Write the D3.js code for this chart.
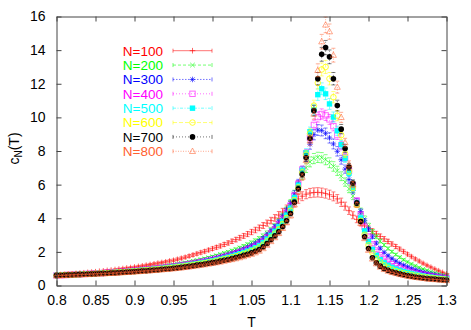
<!DOCTYPE html>
<html><head><meta charset="utf-8">
<script src="https://cdn.jsdelivr.net/npm/d3@7"></script>
<style>body{margin:0;background:#fff} svg{display:block} text{font-family:"Liberation Sans",Arial,Helvetica,sans-serif}</style>
</head><body><svg id="c" width="471" height="330"></svg>
<script>
// Temperature grid: 0.800 .. 1.300 step 0.005 (101 points)
const tStart = 0.8, tStep = 0.005, nPts = 101;
const temps = d3.range(nPts).map(i => +(tStart + tStep * i).toFixed(3));

const seriesLabels = ["N=100","N=200","N=300","N=400","N=500","N=600","N=700","N=800"];
const seriesColors = ["#ff0000","#00ff00","#0000ff","#ff00ff","#00ffff","#ffff00","#000000","#ff6030"];
const seriesMarkers = ["plus","cross","star","square","fsquare","circle","fcircle","triangle"];
const seriesDash = [null,"3,2","1.5,1.5","1,2","3,1.5,1,1.5","4,2","1,2","1,1.5"];
const errRel = [0.05,0.04,0.035,0.03,0.03,0.03,0.03,0.03];

const cN100 = [0.63,0.65,0.66,0.68,0.70,0.72,0.74,0.76,0.78,0.80,
 0.82,0.85,0.87,0.90,0.92,0.95,0.98,1.01,1.04,1.07,
 1.10,1.14,1.17,1.21,1.25,1.29,1.33,1.37,1.41,1.46,
 1.50,1.56,1.62,1.68,1.75,1.82,1.89,1.96,2.03,2.11,
 2.19,2.27,2.35,2.44,2.53,2.63,2.73,2.84,2.95,3.06,
 3.18,3.30,3.43,3.57,3.71,3.86,4.02,4.19,4.37,4.56,
 4.76,4.96,5.15,5.31,5.43,5.50,5.53,5.54,5.52,5.47,
 5.40,5.30,5.15,4.95,4.72,4.45,4.18,3.93,3.72,3.54,
 3.38,3.22,3.07,2.92,2.77,2.62,2.47,2.32,2.17,2.02,
 1.86,1.72,1.58,1.45,1.32,1.20,1.09,0.98,0.88,0.78,
 0.69];
const cN200 = [0.61,0.62,0.63,0.65,0.66,0.67,0.69,0.70,0.72,0.73,
 0.75,0.76,0.78,0.80,0.82,0.84,0.86,0.88,0.90,0.92,
 0.95,0.97,1.00,1.02,1.05,1.08,1.11,1.14,1.17,1.21,
 1.24,1.28,1.32,1.36,1.40,1.45,1.50,1.55,1.60,1.66,
 1.72,1.78,1.85,1.92,1.99,2.07,2.15,2.24,2.34,2.44,
 2.55,2.67,2.80,2.95,3.12,3.32,3.55,3.82,4.13,4.50,
 4.92,5.45,6.00,6.55,7.00,7.35,7.55,7.62,7.60,7.48,
 7.30,7.08,6.82,6.50,6.15,5.75,5.32,4.88,4.43,3.98,
 3.56,3.20,2.90,2.64,2.41,2.20,2.01,1.84,1.68,1.53,
 1.40,1.28,1.17,1.07,0.98,0.90,0.82,0.75,0.69,0.63,
 0.57];
const cN300 = [0.60,0.61,0.62,0.64,0.65,0.66,0.67,0.69,0.70,0.71,
 0.73,0.74,0.76,0.77,0.79,0.81,0.83,0.85,0.87,0.89,
 0.91,0.93,0.96,0.98,1.00,1.03,1.06,1.08,1.11,1.14,
 1.18,1.21,1.25,1.28,1.32,1.36,1.41,1.45,1.50,1.55,
 1.60,1.66,1.72,1.78,1.85,1.92,2.00,2.08,2.17,2.27,
 2.38,2.50,2.64,2.81,3.02,3.25,3.50,3.78,4.10,4.47,
 4.88,5.45,6.10,6.85,7.65,8.40,8.98,9.25,9.22,9.05,
 8.78,8.42,7.98,7.48,6.92,6.30,5.65,5.00,4.40,3.85,
 3.35,2.90,2.52,2.22,1.97,1.77,1.60,1.45,1.32,1.21,
 1.11,1.02,0.94,0.87,0.80,0.74,0.69,0.64,0.59,0.55,
 0.51];
const cN400 = [0.60,0.61,0.62,0.63,0.64,0.66,0.67,0.68,0.69,0.70,
 0.72,0.73,0.74,0.76,0.78,0.79,0.81,0.83,0.85,0.87,
 0.89,0.91,0.93,0.95,0.97,1.00,1.02,1.05,1.07,1.10,
 1.13,1.16,1.20,1.23,1.27,1.31,1.35,1.39,1.43,1.48,
 1.53,1.58,1.64,1.70,1.76,1.83,1.90,1.98,2.06,2.15,
 2.25,2.36,2.49,2.66,2.87,3.10,3.35,3.63,3.96,4.33,
 4.75,5.35,6.05,6.90,7.85,8.80,9.55,10.02,10.20,10.12,
 9.88,9.48,8.95,8.32,7.62,6.82,5.95,5.05,4.22,3.50,
 2.92,2.45,2.08,1.80,1.58,1.41,1.27,1.15,1.05,0.96,
 0.88,0.81,0.75,0.69,0.64,0.60,0.56,0.52,0.49,0.46,
 0.43];
const cN500 = [0.60,0.61,0.62,0.63,0.64,0.65,0.66,0.68,0.69,0.70,
 0.71,0.72,0.74,0.75,0.77,0.78,0.80,0.82,0.83,0.85,
 0.87,0.89,0.91,0.93,0.95,0.97,0.99,1.02,1.04,1.07,
 1.10,1.13,1.16,1.19,1.23,1.26,1.30,1.34,1.38,1.43,
 1.47,1.52,1.57,1.63,1.69,1.75,1.82,1.89,1.97,2.05,
 2.14,2.25,2.38,2.55,2.76,2.98,3.22,3.49,3.81,4.18,
 4.60,5.22,5.95,6.85,7.90,9.15,10.45,11.35,11.70,11.40,
 10.80,10.02,9.20,8.38,7.55,6.68,5.78,4.88,4.02,3.25,
 2.62,2.15,1.80,1.54,1.35,1.20,1.08,0.98,0.90,0.83,
 0.77,0.71,0.66,0.61,0.57,0.53,0.50,0.47,0.44,0.41,
 0.39];
const cN600 = [0.60,0.61,0.62,0.63,0.64,0.65,0.66,0.67,0.68,0.69,
 0.71,0.72,0.73,0.74,0.76,0.77,0.79,0.80,0.82,0.84,
 0.85,0.87,0.89,0.91,0.93,0.95,0.97,0.99,1.02,1.04,
 1.07,1.10,1.13,1.16,1.19,1.23,1.26,1.30,1.34,1.38,
 1.42,1.47,1.52,1.57,1.62,1.68,1.74,1.81,1.88,1.96,
 2.05,2.15,2.27,2.43,2.63,2.85,3.09,3.35,3.66,4.02,
 4.45,5.08,5.82,6.72,7.78,9.05,10.70,12.05,12.85,13.00,
 12.30,11.20,10.10,8.95,7.85,6.80,5.80,4.80,3.85,3.02,
 2.40,1.95,1.62,1.38,1.20,1.06,0.95,0.86,0.79,0.73,
 0.68,0.63,0.59,0.55,0.52,0.49,0.46,0.43,0.40,0.38,
 0.36];
const cN700 = [0.60,0.61,0.62,0.63,0.64,0.65,0.66,0.67,0.68,0.69,
 0.70,0.71,0.72,0.73,0.75,0.76,0.77,0.79,0.80,0.82,
 0.83,0.85,0.87,0.88,0.90,0.92,0.94,0.96,0.98,1.00,
 1.03,1.05,1.08,1.11,1.14,1.17,1.21,1.24,1.28,1.32,
 1.36,1.40,1.45,1.50,1.55,1.60,1.66,1.72,1.79,1.86,
 1.94,2.03,2.14,2.30,2.50,2.72,2.95,3.20,3.50,3.85,
 4.28,4.95,5.75,6.60,7.60,8.75,10.40,12.30,13.75,14.15,
 13.60,12.30,10.70,9.30,8.15,7.05,6.10,4.90,3.80,2.90,
 2.20,1.65,1.35,1.15,1.00,0.90,0.82,0.75,0.69,0.64,
 0.59,0.55,0.51,0.48,0.45,0.42,0.40,0.38,0.36,0.34,
 0.32];
const cN800 = [0.59,0.60,0.61,0.62,0.63,0.64,0.65,0.66,0.67,0.68,
 0.69,0.70,0.71,0.72,0.73,0.74,0.76,0.77,0.79,0.80,
 0.82,0.83,0.85,0.87,0.88,0.90,0.92,0.94,0.96,0.98,
 1.00,1.03,1.05,1.08,1.11,1.14,1.17,1.21,1.24,1.28,
 1.32,1.36,1.40,1.45,1.50,1.55,1.60,1.66,1.72,1.79,
 1.86,1.95,2.05,2.20,2.40,2.62,2.85,3.10,3.40,3.74,
 4.15,4.80,5.60,6.45,7.45,8.60,10.20,12.80,14.50,15.50,
 15.10,13.70,11.80,10.00,8.50,7.20,6.00,4.80,3.70,2.80,
 2.10,1.58,1.30,1.10,0.96,0.86,0.78,0.72,0.66,0.61,
 0.56,0.52,0.49,0.46,0.43,0.40,0.38,0.36,0.34,0.32,
 0.30];
const seriesValues = [cN100,cN200,cN300,cN400,cN500,cN600,cN700,cN800];

const xTicks = [0.8,0.85,0.9,0.95,1,1.05,1.1,1.15,1.2,1.25,1.3];
const xTickLabels = ["0.8","0.85","0.9","0.95","1","1.05","1.1","1.15","1.2","1.25","1.3"];
const yTicks = [0,2,4,6,8,10,12,14,16];
const yTickLabels = ["0","2","4","6","8","10","12","14","16"];

const svg = d3.select("#c");
const L = 56.5, R = 446.5, Tp = 16.5, B = 285.5;
const x = d3.scaleLinear().domain([0.8,1.3]).range([L,R]);
const y = d3.scaleLinear().domain([0,16]).range([B,Tp]);

function drawMarker(g, type, cx, cy, color) {
  const s = 2.8;
  const line = (x1,y1,x2,y2,op) => g.append("line").attr("x1",x1).attr("y1",y1).attr("x2",x2).attr("y2",y2)
      .attr("stroke",color).attr("stroke-width",1).attr("stroke-opacity",op);
  if (type === "plus") { line(cx-s,cy,cx+s,cy,0.6); line(cx,cy-s,cx,cy+s,0.6); }
  else if (type === "cross") { line(cx-s*0.8,cy-s*0.8,cx+s*0.8,cy+s*0.8,0.6); line(cx-s*0.8,cy+s*0.8,cx+s*0.8,cy-s*0.8,0.6); }
  else if (type === "star") { line(cx-s,cy,cx+s,cy,0.6); line(cx,cy-s,cx,cy+s,0.6);
    line(cx-s*0.75,cy-s*0.75,cx+s*0.75,cy+s*0.75,0.6); line(cx-s*0.75,cy+s*0.75,cx+s*0.75,cy-s*0.75,0.6); }
  else if (type === "square") g.append("rect").attr("x",cx-2.7).attr("y",cy-2.7).attr("width",5.4).attr("height",5.4)
      .attr("fill","none").attr("stroke",color).attr("stroke-opacity",0.6);
  else if (type === "fsquare") g.append("rect").attr("x",cx-2.7).attr("y",cy-2.7).attr("width",5.4).attr("height",5.4)
      .attr("fill",color);
  else if (type === "circle") g.append("circle").attr("cx",cx).attr("cy",cy).attr("r",2.8)
      .attr("fill","none").attr("stroke",color).attr("stroke-opacity",0.8);
  else if (type === "fcircle") g.append("circle").attr("cx",cx).attr("cy",cy).attr("r",2.8).attr("fill",color);
  else if (type === "triangle") g.append("path")
      .attr("d",`M${cx},${cy-3.2}L${cx+3},${cy+2.2}L${cx-3},${cy+2.2}Z`)
      .attr("fill","none").attr("stroke",color).attr("stroke-opacity",0.55);
}

// data
seriesValues.forEach((vals, k) => {
  const g = svg.append("g");
  const col = seriesColors[k];
  vals.forEach((v, i) => {
    const cx = x(temps[i]);
    const e = v * errRel[k];
    const y1 = y(v - e), y2 = y(v + e);
    const eg = g.append("g").attr("stroke",col).attr("stroke-opacity",0.5).attr("stroke-width",1);
    eg.append("line").attr("x1",cx).attr("x2",cx).attr("y1",y1).attr("y2",y2).attr("stroke-dasharray",seriesDash[k]);
    eg.append("line").attr("x1",cx-2).attr("x2",cx+2).attr("y1",y1).attr("y2",y1);
    eg.append("line").attr("x1",cx-2).attr("x2",cx+2).attr("y1",y2).attr("y2",y2);
    drawMarker(g, seriesMarkers[k], cx, y(v), col);
  });
});

// axes (frame with inward ticks)
const styleAxis = g => {
  g.selectAll(".domain").attr("stroke","#444");
  g.selectAll(".tick line").attr("stroke","#444");
  g.selectAll("text").attr("font-size",14).attr("fill","#000").attr("font-family","'Liberation Sans',Arial,sans-serif");
};
svg.append("g").attr("transform",`translate(0,${B})`)
  .call(d3.axisBottom(x).tickValues(xTicks).tickFormat((d,i)=>xTickLabels[i]).tickSizeInner(-5).tickSizeOuter(0).tickPadding(10))
  .call(styleAxis);
svg.append("g").attr("transform",`translate(0,${Tp})`)
  .call(d3.axisTop(x).tickValues(xTicks).tickFormat("").tickSizeInner(-5).tickSizeOuter(0))
  .call(styleAxis);
svg.append("g").attr("transform",`translate(${L},0)`)
  .call(d3.axisLeft(y).tickValues(yTicks).tickFormat((d,i)=>yTickLabels[i]).tickSizeInner(-5).tickSizeOuter(0).tickPadding(11))
  .call(styleAxis);
svg.append("g").attr("transform",`translate(${R},0)`)
  .call(d3.axisRight(y).tickValues(yTicks).tickFormat("").tickSizeInner(-5).tickSizeOuter(0))
  .call(styleAxis);

// axis labels
svg.append("text").attr("x",(L+R)/2).attr("y",327).attr("text-anchor","middle").attr("font-size",14).text("T");
const yl = svg.append("text").attr("transform","translate(19,148.5) rotate(-90)").attr("text-anchor","middle").attr("font-size",14);
yl.append("tspan").text("c");
yl.append("tspan").attr("font-size",10).attr("dy",3).text("N");
yl.append("tspan").attr("dy",-3).text("(T)");

// legend
seriesLabels.forEach((lab, k) => {
  const ry = 50.7 + 14.37 * k;
  const col = seriesColors[k];
  svg.append("text").attr("x",163).attr("y",ry).attr("dy","0.36em").attr("text-anchor","end")
    .attr("font-size",13.5).attr("fill",col).text(lab);
  const g = svg.append("g");
  const lg = g.append("g").attr("stroke",col).attr("stroke-opacity",0.55).attr("stroke-width",1);
  lg.append("line").attr("x1",173).attr("x2",212).attr("y1",ry).attr("y2",ry).attr("stroke-dasharray",seriesDash[k]);
  lg.append("line").attr("x1",173).attr("x2",173).attr("y1",ry-2).attr("y2",ry+2);
  lg.append("line").attr("x1",212).attr("x2",212).attr("y1",ry-2).attr("y2",ry+2);
  drawMarker(g, seriesMarkers[k], 192.5, ry, col);
});
</script>
</body></html>
